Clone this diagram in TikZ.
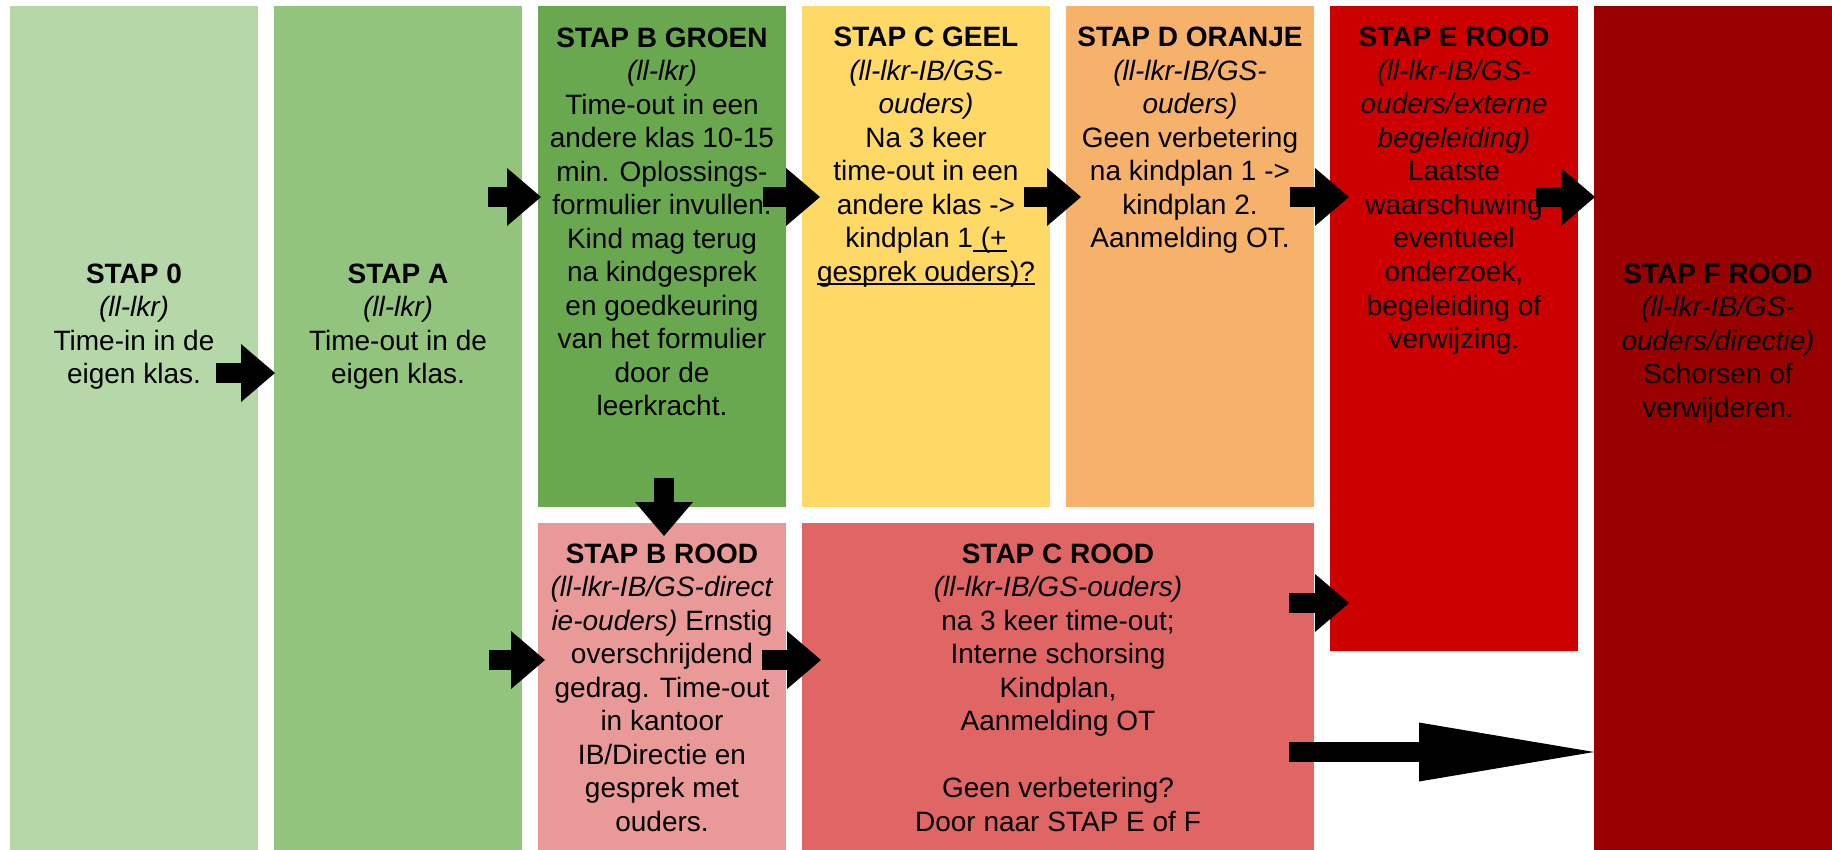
\documentclass[tikz,border=0pt]{standalone}
\usepackage{fontspec}
\setmainfont{Liberation Sans}
\usetikzlibrary{arrows.meta, calc}
\definecolor{stapnul}{HTML}{B6D7A8}
\definecolor{stapa}{HTML}{93C47D}
\definecolor{stapbgroen}{HTML}{6AA84F}
\definecolor{stapcgeel}{HTML}{FFD966}
\definecolor{stapdoranje}{HTML}{F6B26B}
\definecolor{staperood}{HTML}{CC0000}
\definecolor{stapfrood}{HTML}{990000}
\definecolor{stapbrood}{HTML}{EA9999}
\definecolor{stapcrood}{HTML}{E06666}
\newsavebox\onderbox
\newcommand\onderlijn[1]{\sbox\onderbox{#1}\rlap{\rule[-2pt]{\wd\onderbox}{1pt}}\usebox\onderbox}
\tikzset{
  stapbox/.style={rectangle, inner sep=0pt, outer sep=0pt, anchor=north west, minimum width=124pt},
  % anchor=base ligt op de basislijn van de laatste regel
  staptxt/.style={align=center, inner sep=0pt, anchor=base, font=\fontsize{14pt}{16.75pt}\selectfont},
  blok/.style={line width=10pt, -{Triangle[length=17pt, width=29pt, line width=0pt]}},
}
\begin{document}
\begin{tikzpicture}[x=0.5pt, y=-0.5pt]
\useasboundingbox (0,0) rectangle (1832,850);
% vlakken
\node[stapbox, fill=stapnul, minimum height=422pt] (s0) at (10,6) {};
\node[stapbox, fill=stapa, minimum height=422pt] (sA) at (274,6) {};
\node[stapbox, fill=stapbgroen, minimum height=250.5pt] (bG) at (538,6) {};
\node[stapbox, fill=stapcgeel, minimum height=250.5pt] (cG) at (802,6) {};
\node[stapbox, fill=stapdoranje, minimum height=250.5pt] (dO) at (1066,6) {};
\node[stapbox, fill=staperood, minimum height=322.5pt] (eR) at (1330,6) {};
\node[stapbox, fill=stapfrood, minimum height=422pt] (fR) at (1594,6) {};
\node[stapbox, fill=stapbrood, minimum height=163.5pt] (bR) at (538,523) {};
\node[stapbox, fill=stapcrood, minimum height=163.5pt, minimum width=256pt] (cR) at (802,523) {};
% teksten
\node[staptxt] (t0) at (s0.north |- 0,383.5) {\textbf{STAP 0}\\ \textit{(ll-lkr)}\\ Time-in in de\\ eigen klas.};
\node[staptxt] (tA) at (sA.north |- 0,383.5) {\textbf{STAP A}\\ \textit{(ll-lkr)}\\ Time-out in de\\ eigen klas.};
\node[staptxt] (tbG) at (bG.north |- 0,415.5) {\textbf{STAP B GROEN}\\ \textit{(ll-lkr)}\\ Time-out in een\\ andere klas 10-15\\ min. Oplossings-\\ formulier invullen.\\ Kind mag terug\\ na kindgesprek\\ en goedkeuring\\ van het formulier\\ door de\\ leerkracht.};
\node[staptxt] (tcG) at (cG.north |- 0,281.5) {\textbf{STAP C GEEL}\\ \textit{(ll-lkr-IB/GS-}\\ \textit{ouders)}\\ Na 3 keer\\ time-out in een\\ andere klas ->\\ kindplan 1\onderlijn{\ (+}\\ \onderlijn{gesprek ouders)?}};
\node[staptxt] (tdO) at (dO.north |- 0,248) {\textbf{STAP D ORANJE}\\ \textit{(ll-lkr-IB/GS-}\\ \textit{ouders)}\\ Geen verbetering\\ na kindplan 1 ->\\ kindplan 2.\\ Aanmelding OT.};
\node[staptxt] (teR) at (eR.north |- 0,348.5) {\textbf{STAP E ROOD}\\ \textit{(ll-lkr-IB/GS-}\\ \textit{ouders/externe}\\ \textit{begeleiding)}\\ Laatste\\ waarschuwing\\ eventueel\\ onderzoek,\\ begeleiding of\\ verwijzing.};
\node[staptxt] (tfR) at (fR.north |- 0,417) {\textbf{STAP F ROOD}\\ \textit{(ll-lkr-IB/GS-}\\ \textit{ouders/directie)}\\ Schorsen of\\ verwijderen.};
\node[staptxt] (tbR) at (bR.north |- 0,831) {\textbf{STAP B ROOD}\\ \textit{(ll-lkr-IB/GS-direct}\\ \textit{ie-ouders)} Ernstig\\ overschrijdend\\ gedrag. Time-out\\ in kantoor\\ IB/Directie en\\ gesprek met\\ ouders.};
\node[staptxt] (tcR) at (cR.north |- 0,831) {\textbf{STAP C ROOD}\\ \textit{(ll-lkr-IB/GS-ouders)}\\ na 3 keer time-out;\\ Interne schorsing\\ Kindplan,\\ Aanmelding OT\\[16.75pt] Geen verbetering?\\ Door naar STAP E of F};
% pijlen
\draw[blok] ($(s0.east |- 0,373)+(-42,0)$) -- ($(sA.west |- 0,373)+(1,0)$);
\draw[blok] ($(sA.east |- 0,197)+(-34,0)$) -- ($(bG.west |- 0,197)+(3,0)$);
\draw[blok] ($(bG.east |- 0,197)+(-23,0)$) -- ($(cG.west |- 0,197)+(18,0)$);
\draw[blok] ($(cG.east |- 0,197)+(-26,0)$) -- ($(dO.west |- 0,197)+(15,0)$);
\draw[blok] ($(dO.east |- 0,197)+(-24,0)$) -- ($(eR.west |- 0,197)+(19,0)$);
\draw[blok] ($(eR.east |- 0,197)+(-42,0)$) -- ($(fR.west |- 0,197)+(1,0)$);
\draw[blok] ($(bG.south)+(2,-29)$) -- ($(bR.north)+(2,13)$);
\draw[blok] ($(sA.east |- 0,660)+(-33,0)$) -- ($(bR.west |- 0,660)+(7,0)$);
\draw[blok] ($(bR.east |- 0,660)+(-24,0)$) -- ($(cR.west |- 0,660)+(19,0)$);
\draw[blok] ($(cR.east |- 0,603)+(-25,0)$) -- ($(eR.west |- 0,603)+(19,0)$);
\draw[line width=10pt, -{Triangle[length=87.5pt, width=29.5pt, line width=0pt]}] ($(cR.east |- 0,752)+(-25,0)$) -- (fR.west |- 0,752);
\end{tikzpicture}
\end{document}
